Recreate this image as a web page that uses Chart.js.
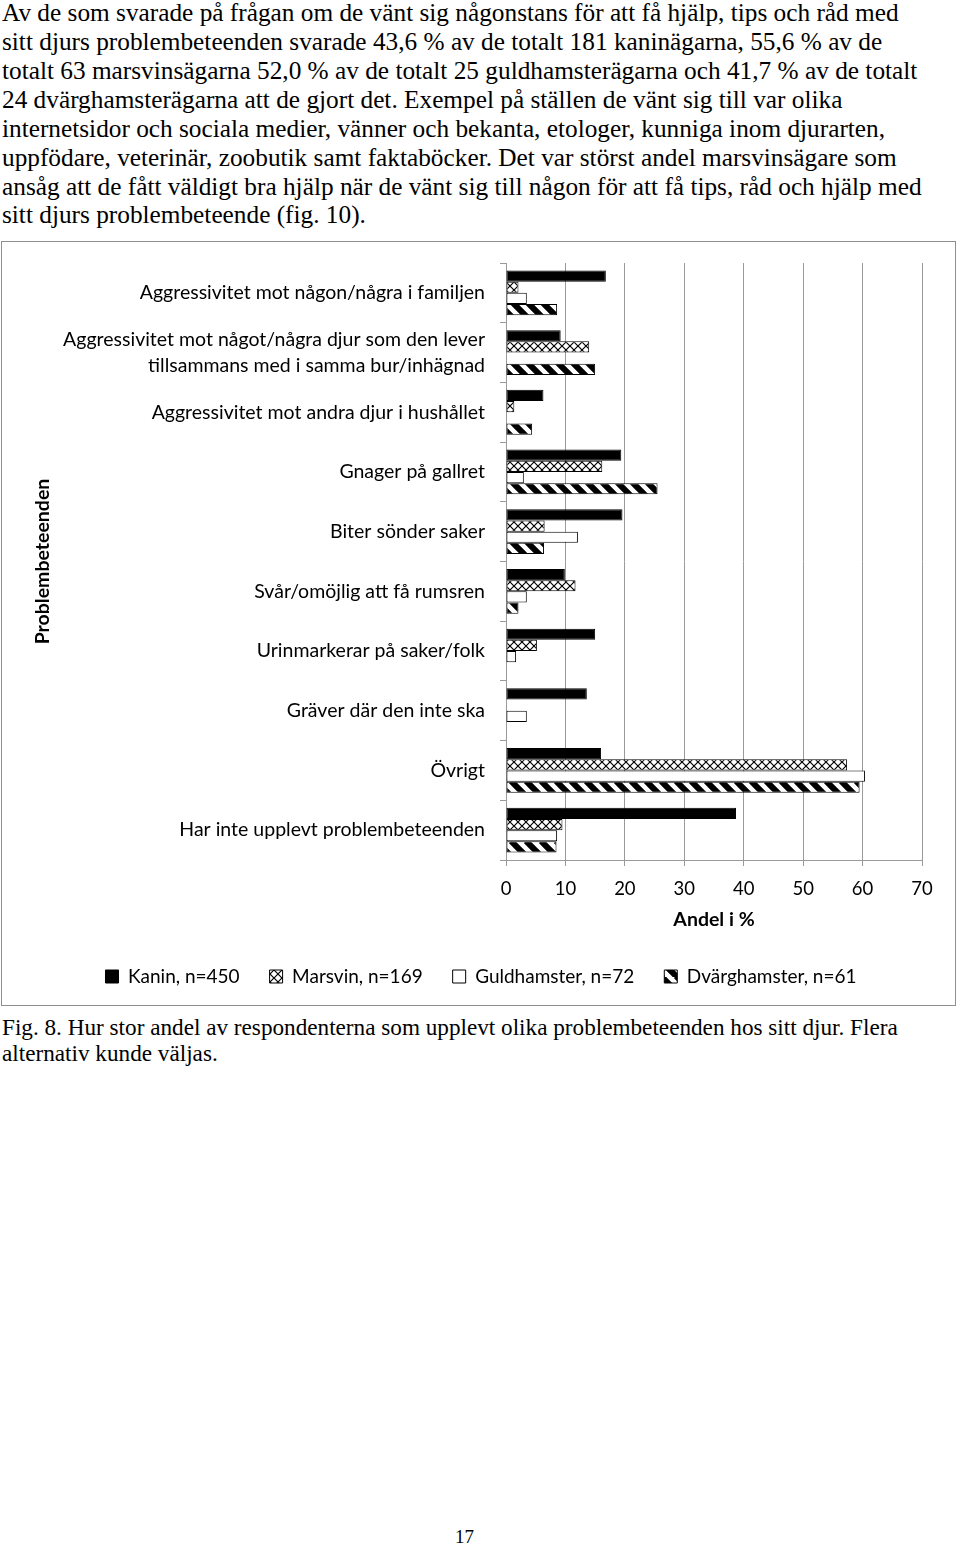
<!DOCTYPE html>
<html lang="sv">
<head>
<meta charset="utf-8">
<script src="https://cdn.jsdelivr.net/npm/chart.js@4.4.1/dist/chart.umd.min.js"></script>
<style>
    body { margin: 0; background: #fff; }
    .page { position: relative; width: 960px; height: 1547px; overflow: hidden; }
    .txt { position: absolute; left: 2px; font-family: "Liberation Serif", "Times New Roman", serif; font-size: 25.3px; line-height: 29px; color: #000; white-space: nowrap; }
    .cap { position: absolute; left: 2px; font-family: "Liberation Serif", serif; font-size: 23.2px; line-height: 26px; color: #000; white-space: nowrap; }
    .box { position: absolute; left: 1px; top: 241px; width: 955px; height: 765px; border: 1px solid #8f8f8f; box-sizing: border-box; }
    #problemChart { position: absolute; left: 0; top: 0; }
    .pagenr { position: absolute; left: 455px; top: 1526px; font-family: "Liberation Serif", serif; font-size: 19px; }
</style>
</head>
<body>
<div class="page">
    <div class="txt" style="top:-2px">Av de som svarade på frågan om de vänt sig någonstans för att få hjälp, tips och råd med</div>
    <div class="txt" style="top:27px">sitt djurs problembeteenden svarade 43,6 % av de totalt 181 kaninägarna, 55,6 % av de</div>
    <div class="txt" style="top:56px">totalt 63 marsvinsägarna 52,0 % av de totalt 25 guldhamsterägarna och 41,7 % av de totalt</div>
    <div class="txt" style="top:85px">24 dvärghamsterägarna att de gjort det. Exempel på ställen de vänt sig till var olika</div>
    <div class="txt" style="top:114px">internetsidor och sociala medier, vänner och bekanta, etologer, kunniga inom djurarten,</div>
    <div class="txt" style="top:143px">uppfödare, veterinär, zoobutik samt faktaböcker. Det var störst andel marsvinsägare som</div>
    <div class="txt" style="top:172px">ansåg att de fått väldigt bra hjälp när de vänt sig till någon för att få tips, råd och hjälp med</div>
    <div class="txt" style="top:200px">sitt djurs problembeteende (fig. 10).</div>

    <div class="box">
        <canvas id="problemChart" width="953" height="763"></canvas>
    </div>

    <div class="cap" style="top:1014px">Fig. 8. Hur stor andel av respondenterna som upplevt olika problembeteenden hos sitt djur. Flera</div>
    <div class="cap" style="top:1040px">alternativ kunde väljas.</div>
    <div class="pagenr">17</div>
</div>

<script>
const categories = [
    'Aggressivitet mot någon/några i familjen',
    ['Aggressivitet mot något/några djur som den lever', 'tillsammans med i samma bur/inhägnad'],
    'Aggressivitet mot andra djur i hushållet',
    'Gnager på gallret',
    'Biter sönder saker',
    'Svår/omöjlig att få rumsren',
    'Urinmarkerar på saker/folk',
    'Gräver där den inte ska',
    'Övrigt',
    'Har inte upplevt problembeteenden'
];
const seriesNames = ['Kanin, n=450', 'Marsvin, n=169', 'Guldhamster, n=72', 'Dvärghamster, n=61'];
const kanin = [16.8, 9.2, 6.3, 19.4, 19.6, 9.9, 15.0, 13.6, 16.0, 38.7];
const marsvin = [2.1, 14.0, 1.4, 16.2, 6.5, 11.7, 5.2, 0, 57.4, 9.5];
const guldhamster = [3.5, 0, 0, 3.0, 12.1, 3.5, 1.7, 3.5, 60.4, 8.6];
const dvarghamster = [8.6, 15.0, 4.4, 25.5, 6.4, 2.1, 0, 0, 59.5, 8.5];
const xTicks = [0, 10, 20, 30, 40, 50, 60, 70];

const labelFont = "Lato, 'Liberation Sans', sans-serif";

// cross-hatch fill used for Marsvin
function crossPattern() {
    const c = document.createElement('canvas');
    c.width = 8; c.height = 8;
    const g = c.getContext('2d');
    g.fillStyle = '#fff';
    g.fillRect(0, 0, 8, 8);
    g.strokeStyle = '#000';
    g.lineWidth = 1.2;
    g.beginPath();
    g.moveTo(0, 0); g.lineTo(8, 8);
    g.moveTo(8, 0); g.lineTo(0, 8);
    g.stroke();
    return g.createPattern(c, 'repeat');
}

// wide diagonal stripes used for Dvärghamster
function stripePattern() {
    const s = 15;
    const c = document.createElement('canvas');
    c.width = s; c.height = s;
    const g = c.getContext('2d');
    g.fillStyle = '#fff';
    g.fillRect(0, 0, s, s);
    g.strokeStyle = '#000';
    g.lineWidth = 6;
    g.beginPath();
    g.moveTo(-1, -1); g.lineTo(s + 1, s + 1);
    g.moveTo(-s - 1, -1); g.lineTo(1, s + 1);
    g.moveTo(s - 1, -1); g.lineTo(2 * s + 1, s + 1);
    g.stroke();
    return g.createPattern(c, 'repeat');
}

const ctx = document.getElementById('problemChart');
const gridGray = '#9a9a9a';

new Chart(ctx, {
    type: 'bar',
    data: {
        labels: categories,
        datasets: [
            { label: seriesNames[0], data: kanin, backgroundColor: '#000', borderColor: '#000', borderWidth: 1, borderSkipped: false },
            { label: seriesNames[1], data: marsvin, backgroundColor: crossPattern(), borderColor: '#000', borderWidth: 1, borderSkipped: false },
            { label: seriesNames[2], data: guldhamster, backgroundColor: '#fff', borderColor: '#000', borderWidth: 1, borderSkipped: false },
            { label: seriesNames[3], data: dvarghamster, backgroundColor: stripePattern(), borderColor: '#000', borderWidth: 1, borderSkipped: false }
        ]
    },
    options: {
        indexAxis: 'y',
        responsive: false,
        animation: false,
        devicePixelRatio: 1,
        categoryPercentage: 0.75,
        barPercentage: 1.0,
        layout: {
            padding: { left: 38, right: 33, top: 21, bottom: 9 }
        },
        plugins: {
            legend: {
                position: 'bottom',
                labels: {
                    color: '#000',
                    boxWidth: 13,
                    boxHeight: 13,
                    padding: 30,
                    font: { family: labelFont, size: 19 }
                }
            },
            tooltip: { enabled: false }
        },
        scales: {
            x: {
                min: 0,
                max: 70,
                afterBuildTicks: scale => {
                    scale.ticks = xTicks.map(v => ({ value: v }));
                },
                afterFit: scale => {
                    scale.height = 77;
                    scale.paddingLeft = 0;
                    scale.paddingRight = 0;
                },
                grid: { color: gridGray, lineWidth: 1, tickLength: 6 },
                border: { color: gridGray },
                ticks: {
                    color: '#000',
                    padding: 12,
                    font: { family: labelFont, size: 18.5 }
                },
                title: {
                    display: true,
                    text: 'Andel i %',
                    color: '#000',
                    padding: { top: 0, bottom: 5.3 },
                    font: { family: labelFont, size: 19.5, weight: 'bold' }
                }
            },
            y: {
                afterFit: scale => {
                    scale.width = 466;
                    scale.paddingTop = 0;
                    scale.paddingBottom = 0;
                },
                grid: { drawOnChartArea: false, color: gridGray, tickLength: 6, offset: true },
                border: { color: gridGray },
                ticks: {
                    color: '#000',
                    padding: 15,
                    autoSkip: false,
                    font: { family: labelFont, size: 19.5, lineHeight: 1.33 }
                },
                title: {
                    display: true,
                    text: 'Problembeteenden',
                    color: '#000',
                    padding: { top: -9, bottom: 0 },
                    font: { family: labelFont, size: 19.5, weight: 'bold' }
                }
            }
        }
    }
});
</script>
</body>
</html>
